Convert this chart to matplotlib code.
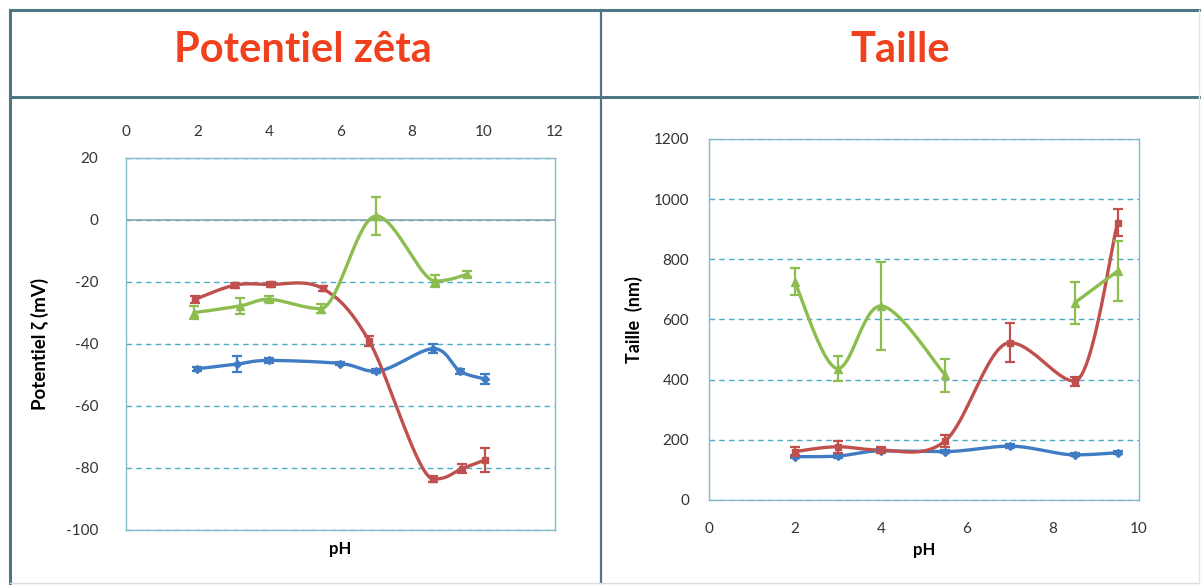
import numpy as np
import matplotlib
matplotlib.use('Agg')
import matplotlib.pyplot as plt
from matplotlib.lines import Line2D

plt.rcParams['font.family'] = ['Lato', 'DejaVu Sans']
plt.rcParams['axes.unicode_minus'] = False

# zeta potential (mV) vs pH
ph_z_blue = [2.0, 3.1, 4.0, 6.0, 7.0, 8.6, 9.35, 10.05]
zeta_blue = [-48, -46.5, -45.3, -46.3, -48.8, -41.5, -48.8, -51.3]
zeta_blue_err = [0.6, 2.5, 0.8, 0.6, 0.6, 1.5, 0.8, 1.5]

ph_z_red = [1.93, 3.05, 4.05, 5.5, 6.8, 8.6, 9.4, 10.05]
zeta_red = [-25.6, -21.0, -20.8, -22.1, -39.0, -83.6, -80.2, -77.4]
zeta_red_err = [1.2, 0.8, 0.8, 0.8, 1.5, 1.0, 1.5, 4.0]

ph_z_green = [1.9, 3.2, 4.0, 5.45, 7.0, 8.65, 9.55]
zeta_green = [-29.9, -27.7, -25.6, -28.6, 1.3, -19.7, -17.5]
zeta_green_err = [2.0, 2.5, 1.0, 1.5, 6.0, 2.0, 1.0]

# particle size (nm) vs pH
ph_t = [2.0, 3.0, 4.0, 5.5, 7.0, 8.5, 9.5]
taille_blue = [144, 146, 163, 161, 179, 150, 157]
taille_blue_err = [5, 5, 5, 5, 6, 5, 5]
taille_red = [161, 177, 166, 197, 523, 395, 921]
taille_red_err = [15, 20, 10, 20, 65, 15, 45]
taille_green = [725, 437, 645, 415, np.nan, 655, 761]
taille_green_err = [45, 40, 147, 55, np.nan, 70, 100]

blue = '#3f7cc4'
red = '#c0504d'
green = '#8dbd4f'
grid_c = '#4bacc6'
frame_c = '#4f7683'


def smooth(x, y, n=24):
    # cubic bezier through the points (smoothed line), flat at local extrema
    x = np.asarray(x, float)
    y = np.asarray(y, float)
    xs, ys = [], []
    ok = ~np.isnan(y)
    runs, cur = [], []
    for i in range(len(x)):
        if ok[i]:
            cur.append(i)
        elif cur:
            runs.append(cur)
            cur = []
    if cur:
        runs.append(cur)
    for r in runs:
        px, py = x[r], y[r]
        m = len(px)
        if m == 1:
            continue
        # tangents
        tx = np.zeros(m)
        ty = np.zeros(m)
        for i in range(m):
            i0 = max(i - 1, 0)
            i1 = min(i + 1, m - 1)
            tx[i] = (px[i1] - px[i0]) / 6
            ty[i] = (py[i1] - py[i0]) / 6
            if 0 < i < m - 1 and (py[i] - py[i0]) * (py[i1] - py[i]) < 0:
                ty[i] = 0
        t = np.linspace(0, 1, n)
        for i in range(m - 1):
            p0 = np.array([px[i], py[i]])
            p3 = np.array([px[i + 1], py[i + 1]])
            c1 = p0 + np.array([tx[i], ty[i]])
            c2 = p3 - np.array([tx[i + 1], ty[i + 1]])
            b = ((1 - t) ** 3)[:, None] * p0 + (3 * (1 - t) ** 2 * t)[:, None] * c1 \
                + (3 * (1 - t) * t ** 2)[:, None] * c2 + (t ** 3)[:, None] * p3
            xs.extend(b[:, 0])
            ys.extend(b[:, 1])
        xs.append(np.nan)
        ys.append(np.nan)
    return xs, ys


def draw_series(ax, x, y, err, color, marker, ms):
    sx, sy = smooth(x, y)
    ax.plot(sx, sy, color=color, lw=2.4, solid_capstyle='round', zorder=3)
    ax.plot(x, y, ls='none', marker=marker, ms=ms, color=color, zorder=4)
    ax.errorbar(x, y, yerr=err, fmt='none', ecolor=color, elinewidth=1.6,
                capsize=3.5, capthick=1.6, zorder=4)


def style_axes(ax):
    for s in ax.spines.values():
        s.set_color('#86b9cc')
        s.set_linewidth(1.0)
    ax.tick_params(length=0, labelsize=11, labelcolor='#333333')
    ax.yaxis.grid(True, ls=(0, (4, 3)), color=grid_c, lw=1.0)
    ax.set_axisbelow(True)


fig = plt.figure(figsize=(12.03, 5.86), dpi=100)

# zeta potential panel
ax1 = fig.add_axes([0.1047, 0.0956, 0.3566, 0.6348])
style_axes(ax1)
ax1.set_xlim(0, 12)
ax1.set_ylim(-100, 20)
ax1.set_xticks(range(0, 13, 2))
ax1.set_yticks(range(-100, 21, 20))
ax1.xaxis.tick_top()
ax1.tick_params(axis='x', pad=14)
ax1.tick_params(axis='y', pad=20)
ax1.axhline(0, color='#8aa6b0', lw=1.2, zorder=2)
draw_series(ax1, ph_z_blue, zeta_blue, zeta_blue_err, blue, 'D', 4.5)
draw_series(ax1, ph_z_red, zeta_red, zeta_red_err, red, 's', 4.5)
draw_series(ax1, ph_z_green, zeta_green, zeta_green_err, green, '^', 5.5)
ax1.set_xlabel('pH', fontsize=12, fontweight='bold', labelpad=8)
ax1.set_ylabel('Potentiel ζ (mV)', fontsize=13.5, fontweight='bold', labelpad=12)

# size panel
ax2 = fig.add_axes([0.589, 0.1468, 0.3579, 0.616])
style_axes(ax2)
ax2.set_xlim(0, 10)
ax2.set_ylim(0, 1200)
ax2.set_xticks(range(0, 11, 2))
ax2.set_yticks(range(0, 1201, 200))
ax2.tick_params(axis='x', pad=16)
ax2.tick_params(axis='y', pad=14)
draw_series(ax2, ph_t, taille_blue, taille_blue_err, blue, 'D', 4.5)
draw_series(ax2, ph_t, taille_red, taille_red_err, red, 's', 4.5)
draw_series(ax2, ph_t, taille_green, taille_green_err, green, '^', 5.5)
ax2.set_xlabel('pH', fontsize=12, fontweight='bold', labelpad=4)
ax2.set_ylabel('Taille  (nm)', fontsize=13, fontweight='bold', labelpad=8)

# table frame around the two panels
y_top, y_head, y_bot = 1 - 10 / 586, 1 - 97 / 586, 1 - 583 / 586
x_l, x_mid, x_r = 10 / 1203, 601 / 1203, 1199 / 1203
for xs, ys, lw, c in [
    ([x_l, x_r], [y_top, y_top], 2.2, frame_c),
    ([x_l, x_r], [y_head, y_head], 2.2, frame_c),
    ([x_l, x_l], [y_bot, y_top], 2.2, frame_c),
    ([x_mid, x_mid], [y_bot, y_top], 1.6, frame_c),
    ([x_l, x_r], [y_bot, y_bot], 1.0, '#d8dde0'),
    ([x_r, x_r], [y_bot, y_top], 1.0, '#e3e6e8'),
]:
    fig.add_artist(Line2D(xs, ys, transform=fig.transFigure, lw=lw, color=c))

title_c = '#f0401e'
fig.text(303 / 1203, 1 - 50 / 586, 'Potentiel zêta', ha='center', va='center',
         fontsize=30, fontweight='bold', color=title_c)
fig.text(900 / 1203, 1 - 50 / 586, 'Taille', ha='center', va='center',
         fontsize=30, fontweight='bold', color=title_c)

fig.savefig('out.png', dpi=100)
